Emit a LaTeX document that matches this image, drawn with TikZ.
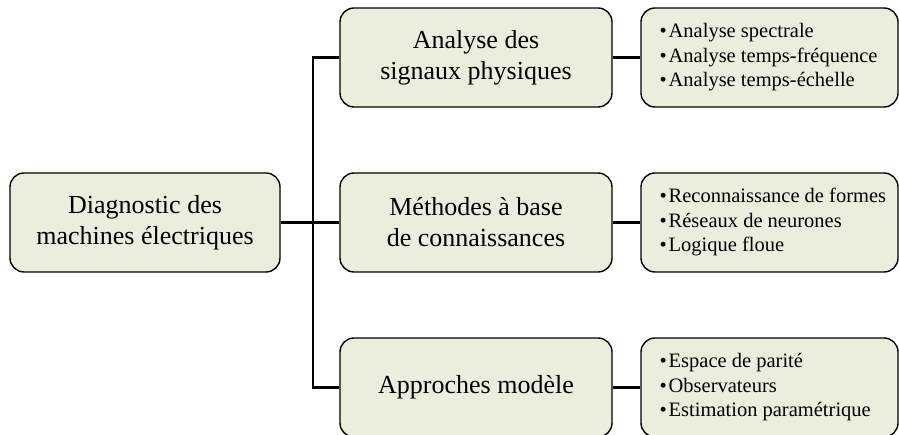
\documentclass[tikz,border=0pt]{standalone}
\usepackage{fontspec}
\setmainfont{Liberation Serif}
\definecolor{boxfill}{RGB}{235,238,221}
\tikzset{
  mainbox/.style={draw=black, line width=1.4pt, fill=boxfill, rounded corners=14pt,
    minimum width=272pt, minimum height=99pt, align=center, inner sep=0pt,
    font=\fontsize{26}{31}\selectfont},
  listbox/.style={draw=black, line width=1.4pt, fill=boxfill, rounded corners=14pt,
    minimum width=257pt, minimum height=99pt, inner sep=0pt},
  listtext/.style={anchor=west, align=left, inner sep=0pt,
    font=\fontsize{20.5}{24.5}\selectfont},
  conn/.style={line width=2.6pt}
}
\newcommand{\itm}{\textbullet\hspace{2pt}}
\begin{document}
\begin{tikzpicture}[x=1pt,y=1pt]
\useasboundingbox (0,0) rectangle (899,435);
\node[mainbox, minimum width=270pt] (root) at (145,212.5) {Diagnostic des\\machines électriques};
\node[mainbox] (m1) at (476,377.5) {Analyse des\\signaux physiques};
\node[mainbox] (m2) at (476,212.5) {Méthodes à base\\de connaissances};
\node[mainbox] (m3) at (476,47.5) {Approches modèle};
\node[listbox] (r1) at (769.5,377.5) {};
\node[listbox] (r2) at (769.5,212.5) {};
\node[listbox] (r3) at (769.5,47.5) {};
\node[listtext] (r1t) at ([xshift=19pt]r1.west) {\itm Analyse spectrale\\\itm Analyse temps-fréquence\\\itm Analyse temps-échelle};
\node[listtext] (r2t) at ([xshift=19pt]r2.west) {\itm Reconnaissance de formes\\\itm Réseaux de neurones\\\itm Logique floue};
\node[listtext] (r3t) at ([xshift=19pt]r3.west) {\itm Espace de parité\\\itm Observateurs\\\itm Estimation paramétrique};
\coordinate (busb) at (313,47.5);
\draw[conn] (root.east) -- (m2.west);
\draw[conn] (m1.west) -| (busb) -- (m3.west);
\draw[conn] (m1.east) -- (r1.west);
\draw[conn] (m2.east) -- (r2.west);
\draw[conn] (m3.east) -- (r3.west);
\end{tikzpicture}
\end{document}
